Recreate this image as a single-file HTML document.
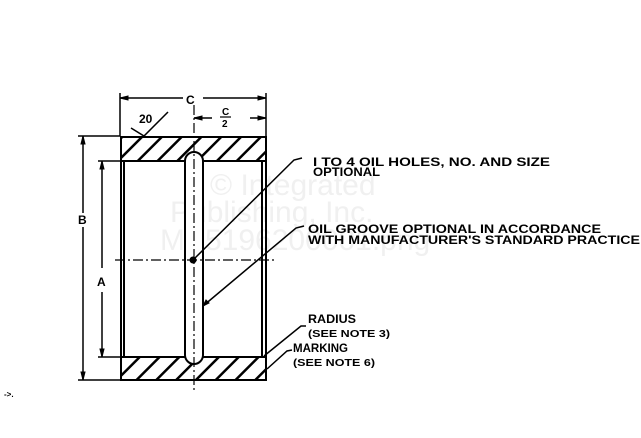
<!DOCTYPE html>
<html><head><style>
html,body{margin:0;padding:0;background:#fff;}
svg text{font-family:"Liberation Sans",sans-serif;font-weight:bold;fill:#000;}
</style></head><body>
<svg width="641" height="433" viewBox="0 0 641 433" xmlns="http://www.w3.org/2000/svg">
<defs>
<pattern id="h" width="14" height="14" patternUnits="userSpaceOnUse" patternTransform="rotate(45)">
<rect x="0" y="0" width="2.5" height="14" fill="#000"/>
</pattern>
</defs>
<g font-size="30">
<text x="210" y="195" style="font-weight:normal;fill:#f0f0f0">© Integrated</text>
<text x="170" y="222" style="font-weight:normal;fill:#f0f0f0">Publishing, Inc.</text>
<text x="160" y="250" style="font-weight:normal;fill:#f0f0f0">MS5196200001.png</text>
</g>
<g stroke="#000" fill="none" stroke-width="2">
<rect x="121" y="137" width="145" height="24" fill="url(#h)" stroke="none"/>
<rect x="121" y="357" width="145" height="23" fill="url(#h)" stroke="none"/>
<rect x="121" y="137" width="145" height="243"/>
<line x1="121" y1="161" x2="266" y2="161"/>
<line x1="121" y1="357" x2="266" y2="357"/>
<line x1="124" y1="161" x2="124" y2="357"/>
<line x1="262" y1="161" x2="262" y2="357"/>
<rect x="185" y="152" width="18" height="212" rx="9" fill="#fff"/>
<line x1="194" y1="105" x2="194" y2="390" stroke-width="1.2" stroke-dasharray="10,3,2,3"/>
<line x1="115" y1="260" x2="276" y2="260" stroke-width="1.2" stroke-dasharray="10,3,2,3"/>
<line x1="120" y1="93" x2="120" y2="136" stroke-width="1.5"/>
<line x1="266" y1="93" x2="266" y2="136" stroke-width="1.5"/>
<line x1="120" y1="98" x2="183" y2="98" stroke-width="1.5"/>
<line x1="203" y1="98" x2="266" y2="98" stroke-width="1.5"/>
<line x1="194" y1="118" x2="212" y2="118" stroke-width="1.5"/>
<line x1="250" y1="118" x2="266" y2="118" stroke-width="1.5"/>
<polyline points="131,128 144,136 168,112" stroke-width="1.5"/>
<line x1="78" y1="136" x2="120" y2="136" stroke-width="1.5"/>
<line x1="78" y1="380" x2="120" y2="380" stroke-width="1.5"/>
<line x1="83" y1="136" x2="83" y2="213" stroke-width="1.5"/>
<line x1="83" y1="227" x2="83" y2="380" stroke-width="1.5"/>
<line x1="98" y1="161" x2="124" y2="161" stroke-width="1.5"/>
<line x1="98" y1="357" x2="124" y2="357" stroke-width="1.5"/>
<line x1="102" y1="161" x2="102" y2="268" stroke-width="1.5"/>
<line x1="102" y1="292" x2="102" y2="357" stroke-width="1.5"/>
<polyline points="194,259 294,160 302,158" stroke-width="1.5"/>
<polyline points="203,306 296,228 304,226" stroke-width="1.5"/>
<polyline points="264,356 301,326 306,326" stroke-width="1.5"/>
<polyline points="267,369 287,351 292,350" stroke-width="1.5"/>
</g>
<circle cx="193" cy="260" r="3.5" fill="#000"/>
<g stroke="#000" fill="#000" stroke-width="1">
<polygon points="120,98 128,96 128,100"/>
<polygon points="266,98 258,96 258,100"/>
<polygon points="194,118 202,116 202,120"/>
<polygon points="266,118 258,116 258,120"/>
<polygon points="83,136 81,144 85,144"/>
<polygon points="83,380 81,372 85,372"/>
<polygon points="102,161 100,169 104,169"/>
<polygon points="102,357 100,349 104,349"/>
<polygon points="203,306 206,300 209,303"/>
</g>
<g font-size="12">
<text x="186" y="104">C</text>
<text x="222" y="115" font-size="10">C</text>
<line x1="220" y1="117" x2="231" y2="117" stroke="#000" stroke-width="1.2"/>
<text x="222" y="127" font-size="10">2</text>
<text x="139" y="123">20</text>
<text x="78" y="224">B</text>
<text x="97" y="286">A</text>
<text x="313" y="166" textLength="237" lengthAdjust="spacingAndGlyphs">I TO 4 OIL HOLES, NO. AND SIZE</text>
<text x="313" y="176" textLength="67" lengthAdjust="spacingAndGlyphs">OPTIONAL</text>
<text x="308" y="233" textLength="293" lengthAdjust="spacingAndGlyphs">OIL GROOVE OPTIONAL IN ACCORDANCE</text>
<text x="308" y="244" textLength="332" lengthAdjust="spacingAndGlyphs">WITH MANUFACTURER'S STANDARD PRACTICE</text>
<text x="308" y="323" textLength="48" lengthAdjust="spacingAndGlyphs">RADIUS</text>
<text x="308" y="337" font-size="10" textLength="82" lengthAdjust="spacingAndGlyphs">(SEE NOTE 3)</text>
<text x="293" y="352" textLength="55" lengthAdjust="spacingAndGlyphs">MARKING</text>
<text x="293" y="366" font-size="10" textLength="82" lengthAdjust="spacingAndGlyphs">(SEE NOTE 6)</text>
</g>
<text x="4" y="397" font-size="8">-&gt;.</text>
</svg>
</body></html>
